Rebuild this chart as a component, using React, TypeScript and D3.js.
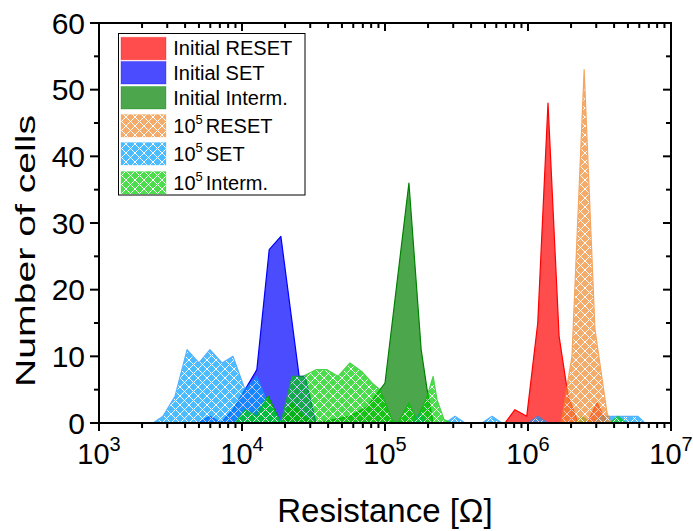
import React from 'react';
import * as d3 from 'd3';

// ---- data (resistance in Ω, number of cells) ----
const initialReset: [number, number][] = [
  [6.9e5, 0], [8.1e5, 2], [9.8e5, 1], [1.17e6, 15], [1.38e6, 48], [1.65e6, 13],
  [1.91e6, 4], [2.24e6, 0], [2.6e6, 0], [3.04e6, 3], [3.57e6, 0],
];
const initialSet: [number, number][] = [
  [4920, 0], [5970, 1], [7130, 0], [8650, 2], [10500, 5], [12700, 8], [15500, 26],
  [18700, 28], [25100, 7], [27600, 7], [32900, 0],
];
const initialInterm: [number, number][] = [
  [10500, 0], [12700, 2], [15200, 4], [18700, 0], [22400, 3], [26700, 1], [32900, 0],
  [56900, 1], [69000, 2], [74800, 2.4], [100000, 6], [147000, 36], [179000, 11],
  [197000, 5], [217000, 0],
];
const cycledReset: [number, number][] = [
  [1.7e6, 0], [2.03e6, 10], [2.47e6, 53], [2.94e6, 14], [3.57e6, 1.5], [3.8e6, 0],
];
const cycledSet: [number, number][] = [
  [2390, 0], [2800, 1], [3400, 4], [4130, 11], [5000, 9], [5970, 11], [7250, 9],
  [8650, 10], [10500, 5], [12700, 7], [15200, 3], [18400, 0.5], [21700, 0],
  [1.55e5, 0], [1.76e5, 1.5], [1.94e5, 0],
  [2.63e5, 0], [3.09e5, 1], [3.63e5, 0],
  [4.77e5, 0], [5.6e5, 1], [6.58e5, 0],
  [1.0e6, 0], [1.17e6, 1], [1.38e6, 0],
  [2.9e6, 0], [3.19e6, 1], [5.88e6, 1], [6.58e6, 0],
];
const cycledInterm: [number, number][] = [
  [8930, 0], [10500, 2], [12700, 1], [15200, 4], [18700, 0], [22400, 7], [26700, 7],
  [32900, 8], [39300, 8], [46900, 7], [56900, 9], [69000, 7.7], [81100, 6],
  [92300, 5], [112000, 0.5], [123000, 0], [147000, 3], [167000, 0.5], [197000, 4],
  [217000, 7], [231000, 3.5], [259000, 0.5], [294000, 0],
  [2.13e6, 0], [2.39e6, 1], [2.72e6, 0], [3.74e6, 0], [4.25e6, 1], [4.84e6, 0],
];

const seriesNames = ['Initial RESET', 'Initial SET', 'Initial Interm.', 'RESET', 'SET', 'Interm.'];
const yTicks = [0, 10, 20, 30, 40, 50, 60];
const yMinorTicks = [5, 15, 25, 35, 45, 55];
const xTickExps = [3, 4, 5, 6, 7];

const W = 693, H = 531;
const L = 99, R = 671, T = 23, B = 423;

export default function App() {
  const x = d3.scaleLog().domain([1e3, 1e7]).range([L, R]);
  const y = d3.scaleLinear().domain([0, 60]).range([B, T]);
  const area = d3.area<[number, number]>()
    .x(d => x(d[0]))
    .y0(y(0))
    .y1(d => y(d[1]));

  const solid = [
    { data: initialReset, color: '#ff0000', stroke: '#ff0000' },
    { data: initialSet, color: '#0000ff', stroke: '#0000ff' },
    { data: initialInterm, color: '#008000', stroke: '#008000' },
  ];
  const hatched = [
    { data: cycledSet, color: '#00a0ff', stroke: '#1090ff', id: 'hSet' },
    { data: cycledInterm, color: '#00d000', stroke: '#00c000', id: 'hInt' },
    { data: cycledReset, color: '#f08a2e', stroke: '#f08020', id: 'hRes' },
  ];

  const minorX: number[] = [];
  for (let e = 3; e < 7; e++) for (let m = 2; m <= 9; m++) minorX.push(m * Math.pow(10, e));

  const legendItems = [
    { name: seriesNames[0], color: '#ff0000', pat: null, sup: false },
    { name: seriesNames[1], color: '#0000ff', pat: null, sup: false },
    { name: seriesNames[2], color: '#008000', pat: null, sup: false },
    { name: seriesNames[3], color: '#f08a2e', pat: 'hRes', sup: true },
    { name: seriesNames[4], color: '#00a0ff', pat: 'hSet', sup: true },
    { name: seriesNames[5], color: '#00d000', pat: 'hInt', sup: true },
  ];
  const legendY = [48.3, 72.5, 97.5, 125.5, 153.5, 182.5];
  const font = 'Liberation Sans, Arial, sans-serif';

  return (
    <svg width={W} height={H} style={{ position: 'absolute', left: 0, top: 0, background: '#fff' }}
      fontFamily={font}>
      <defs>
        {hatched.map(h => (
          <pattern key={h.id} id={h.id} width={9} height={9} patternUnits="userSpaceOnUse">
            <rect width={9} height={9} fill={h.color} />
            <path d="M0,0L9,9M9,0L0,9M-1,8L1,10M8,-1L10,1M-1,1L1,-1M8,10L10,8" stroke="#fff" strokeWidth={1} />
          </pattern>
        ))}
        <clipPath id="plot"><rect x={L} y={T} width={R - L} height={B - T} /></clipPath>
      </defs>
      <rect width={W} height={H} fill="#fff" />
      <g clipPath="url(#plot)">
        {solid.map((s, i) => (
          <path key={i} d={area(s.data) || ''} fill={s.color} fillOpacity={0.7}
            stroke={s.stroke} strokeWidth={1.2} strokeLinejoin="round" />
        ))}
        {hatched.map((s, i) => (
          <path key={i} d={area(s.data) || ''} fill={`url(#${s.id})`} opacity={0.7}
            stroke={s.stroke} strokeWidth={1.2} strokeLinejoin="round" />
        ))}
      </g>

      {/* frame */}
      <rect x={L} y={T} width={R - L} height={B - T} fill="none" stroke="#000" strokeWidth={2} />

      {/* y ticks */}
      {yTicks.map(t => (
        <g key={'y' + t}>
          <line x1={L - 9} x2={L} y1={y(t)} y2={y(t)} stroke="#000" strokeWidth={2} />
          <line x1={R - 8} x2={R} y1={y(t)} y2={y(t)} stroke="#000" strokeWidth={2} />
          <text x={85} y={y(t) + 10.7} fontSize={30} textAnchor="end">{t}</text>
        </g>
      ))}
      {yMinorTicks.map(t => (
        <g key={'ym' + t}>
          <line x1={L - 5} x2={L} y1={y(t)} y2={y(t)} stroke="#000" strokeWidth={2} />
          <line x1={R - 5} x2={R} y1={y(t)} y2={y(t)} stroke="#000" strokeWidth={2} />
        </g>
      ))}
      {/* x ticks */}
      {xTickExps.map(e => (
        <g key={'x' + e}>
          <line x1={x(Math.pow(10, e))} x2={x(Math.pow(10, e))} y1={B} y2={B + 8} stroke="#000" strokeWidth={2} />
          <line x1={x(Math.pow(10, e))} x2={x(Math.pow(10, e))} y1={T} y2={T + 8} stroke="#000" strokeWidth={2} />
          <text x={x(Math.pow(10, e))} y={463.5} fontSize={29} textAnchor="middle">
            10<tspan fontSize={20} dy={-13}>{e}</tspan>
          </text>
        </g>
      ))}
      {minorX.map(v => (
        <g key={'xm' + v}>
          <line x1={x(v)} x2={x(v)} y1={B} y2={B + 5} stroke="#000" strokeWidth={2} />
          <line x1={x(v)} x2={x(v)} y1={T} y2={T + 5} stroke="#000" strokeWidth={2} />
        </g>
      ))}

      {/* axis titles */}
      <text x={(L + R) / 2} y={522} fontSize={33} textAnchor="middle">Resistance [Ω]</text>
      <text transform={`translate(35,251) rotate(-90)`} fontSize={28} textAnchor="middle"
        textLength={272} lengthAdjust="spacingAndGlyphs">Number of cells</text>

      {/* legend */}
      <rect x={118.5} y={33.5} width={186.5} height={161.5} fill="#fff" stroke="#000" strokeWidth={1} />
      {legendItems.map((it, i) => (
        <g key={i}>
          <rect x={121} y={legendY[i] - 11} width={45} height={22.5}
            fill={it.pat ? `url(#${it.pat})` : it.color}
            fillOpacity={it.pat ? 1 : 0.7}
            opacity={it.pat ? 0.7 : 1}
            stroke={it.color} strokeOpacity={0.3} strokeWidth={1} />
          {it.sup ? (
            <text x={173.3} y={legendY[i] + 7} fontSize={20}>
              10<tspan fontSize={13} dy={-9}>5</tspan><tspan dy={9} dx={3}>{it.name}</tspan>
            </text>
          ) : (
            <text x={173.3} y={legendY[i] + 7} fontSize={20}>{it.name}</text>
          )}
        </g>
      ))}
    </svg>
  );
}
